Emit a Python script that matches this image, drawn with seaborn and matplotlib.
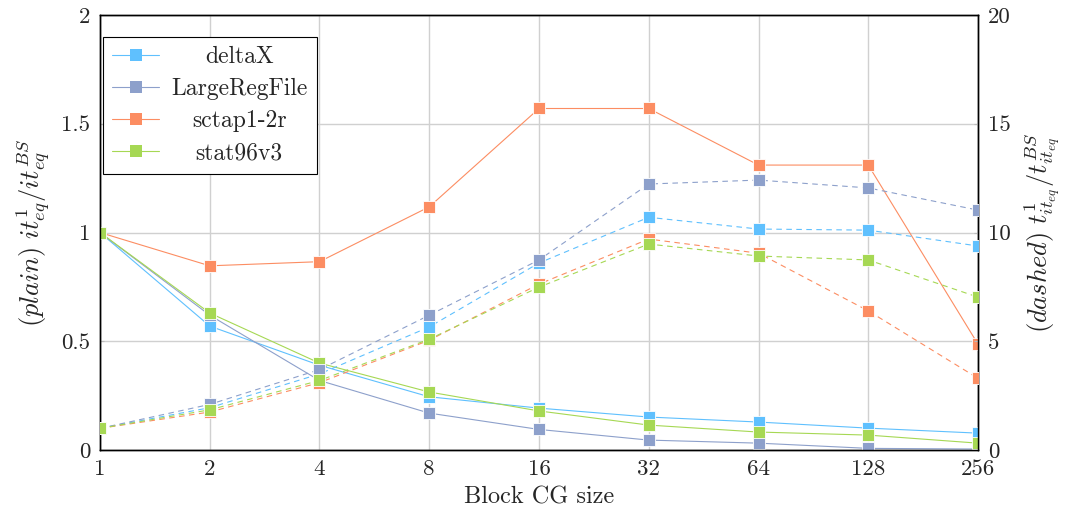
import numpy as np
import pandas as pd
import matplotlib
matplotlib.use("Agg")
import matplotlib.pyplot as plt
import seaborn as sns

block_sizes = [1, 2, 4, 8, 16, 32, 64, 128, 256]
series_names = ["deltaX", "LargeRegFile", "sctap1-2r", "stat96v3"]

# iteration ratio (solid lines, left axis)
iter_deltaX = [1.0, 0.57, 0.39, 0.245, 0.193, 0.152, 0.129, 0.101, 0.078]
iter_largereg = [1.0, 0.62, 0.32, 0.17, 0.095, 0.046, 0.032, 0.008, 0.005]
iter_sctap = [1.0, 0.847, 0.866, 1.118, 1.57, 1.57, 1.31, 1.31, 0.487]
iter_stat96 = [1.0, 0.63, 0.40, 0.267, 0.18, 0.115, 0.083, 0.069, 0.032]

# time ratio (dashed lines, right axis)
time_deltaX = [1.0, 1.95, 3.5, 5.66, 8.6, 10.7, 10.16, 10.11, 9.38]
time_largereg = [1.0, 2.1, 3.7, 6.2, 8.74, 12.23, 12.41, 12.05, 11.03]
time_sctap = [1.0, 1.75, 3.1, 5.05, 7.63, 9.7, 9.05, 6.4, 3.3]
time_stat96 = [1.0, 1.85, 3.2, 5.1, 7.49, 9.47, 8.92, 8.74, 7.03]

colors = ["#5fc0fe", "#8da0cb", "#fc8d62", "#a6d854"]

iter_values = [iter_deltaX, iter_largereg, iter_sctap, iter_stat96]
time_values = [time_deltaX, time_largereg, time_sctap, time_stat96]

iter_df = pd.DataFrame(
    [(n, b, v) for n, vals in zip(series_names, iter_values) for b, v in zip(block_sizes, vals)],
    columns=["matrix", "block", "value"],
)
time_df = pd.DataFrame(
    [(n, b, v) for n, vals in zip(series_names, time_values) for b, v in zip(block_sizes, vals)],
    columns=["matrix", "block", "value"],
)

sns.set_theme(style="white")
plt.rcParams["font.family"] = ["cmr10", "DejaVu Serif"]
plt.rcParams["mathtext.fontset"] = "cm"
plt.rcParams["axes.formatter.use_mathtext"] = True

fig = plt.figure(figsize=(10.67, 5.15), dpi=100)
ax = fig.add_axes([0.0937, 0.126, 0.8229, 0.845])
ax2 = ax.twinx()

palette = dict(zip(series_names, colors))
mk = dict(marker="s", markersize=9.2, markeredgewidth=0.6, markeredgecolor="white",
          linewidth=0.8)

sns.lineplot(data=iter_df, x="block", y="value", hue="matrix", palette=palette,
             ax=ax, legend=False, zorder=3, **mk)
sns.lineplot(data=time_df, x="block", y="value", hue="matrix", palette=palette,
             ax=ax2, legend=False, zorder=3, **mk)
for line in ax2.get_lines():
    line.set_dashes([5, 4])

ax.set_xscale("log", base=2)
ax.set_xlim(1, 256)
ax.set_ylim(0, 2)
ax2.set_ylim(0, 20)
ax.set_xticks(block_sizes)
ax.set_xticklabels([str(b) for b in block_sizes])
ax.xaxis.set_minor_locator(matplotlib.ticker.NullLocator())
ax.set_yticks([0, 0.5, 1, 1.5, 2])
ax.set_yticklabels(["0", "0.5", "1", "1.5", "2"])
ax2.set_yticks([0, 5, 10, 15, 20])
ax2.set_yticklabels(["0", "5", "10", "15", "20"])

ax.grid(True, color="#d0d0d0", linewidth=1.0)
ax.set_axisbelow(True)
for a in (ax, ax2):
    for s in a.spines.values():
        s.set_color("black")
        s.set_linewidth(1.0)
    a.tick_params(labelsize=16.5, length=3, width=0.8, color="#bbbbbb",
                  direction="in", pad=7)

ax.set_xlabel("Block CG size", fontsize=17.5, labelpad=5)
ax.set_ylabel(r"$(plain)\ it^{1}_{eq}/it^{BS}_{eq}$", fontsize=19, labelpad=6)
ax2.set_ylabel(r"$(dashed)\ t^{1}_{it_{eq}}/t^{BS}_{it_{eq}}$", fontsize=19, labelpad=8)

handles = [matplotlib.lines.Line2D([], [], color=c, marker="s", markersize=9.2,
                                   markeredgewidth=0, linewidth=0.8) for c in colors]
leg = ax2.legend(handles, series_names, loc="upper left", bbox_to_anchor=(0.003, 0.95),
                 fontsize=17, frameon=True, fancybox=False, edgecolor="black",
                 framealpha=1, borderpad=0.4, handlelength=2.0, handletextpad=0.5,
                 labelspacing=0.42, borderaxespad=0)
leg.get_frame().set_linewidth(0.8)

# center the entry labels within the legend column
fig.canvas.draw()
renderer = fig.canvas.get_renderer()
widths = [t.get_window_extent(renderer).width for t in leg.get_texts()]
wmax = max(widths)
for t, w in zip(leg.get_texts(), widths):
    t.set_x((wmax - w) / 2)

fig.savefig("out.png", dpi=100)
